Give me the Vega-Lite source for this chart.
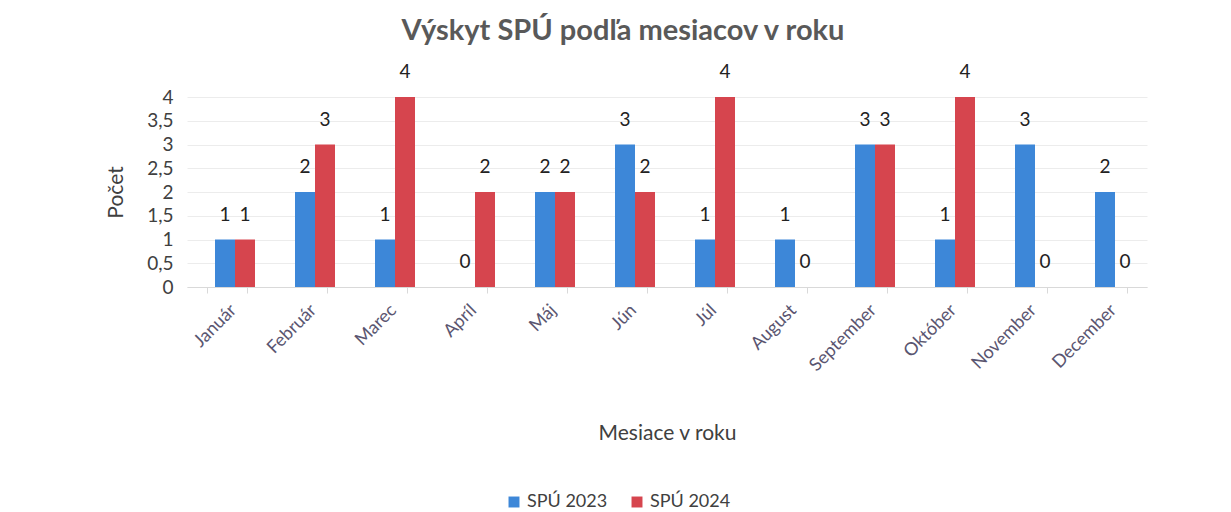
{
  "$schema": "https://vega.github.io/schema/vega-lite/v6.json",
  "width": 960,
  "height": 190,
  "autosize": {"type": "none"},
  "padding": {"left": 187, "top": 97, "right": 84, "bottom": 225},
  "background": "white",
  "title": {
    "text": "Výskyt SPÚ podľa mesiacov v roku",
    "fontSize": 29,
    "font": "Lato",
    "fontWeight": "bold",
    "color": "#595959",
    "anchor": "middle",
    "dx": -44,
    "offset": 17
  },
  "data": {
    "values": [
      {"mesiac": "Január", "rok": "SPÚ 2023", "pocet": 1},
      {"mesiac": "Január", "rok": "SPÚ 2024", "pocet": 1},
      {"mesiac": "Február", "rok": "SPÚ 2023", "pocet": 2},
      {"mesiac": "Február", "rok": "SPÚ 2024", "pocet": 3},
      {"mesiac": "Marec", "rok": "SPÚ 2023", "pocet": 1},
      {"mesiac": "Marec", "rok": "SPÚ 2024", "pocet": 4},
      {"mesiac": "Apríl", "rok": "SPÚ 2023", "pocet": 0},
      {"mesiac": "Apríl", "rok": "SPÚ 2024", "pocet": 2},
      {"mesiac": "Máj", "rok": "SPÚ 2023", "pocet": 2},
      {"mesiac": "Máj", "rok": "SPÚ 2024", "pocet": 2},
      {"mesiac": "Jún", "rok": "SPÚ 2023", "pocet": 3},
      {"mesiac": "Jún", "rok": "SPÚ 2024", "pocet": 2},
      {"mesiac": "Júl", "rok": "SPÚ 2023", "pocet": 1},
      {"mesiac": "Júl", "rok": "SPÚ 2024", "pocet": 4},
      {"mesiac": "August", "rok": "SPÚ 2023", "pocet": 1},
      {"mesiac": "August", "rok": "SPÚ 2024", "pocet": 0},
      {"mesiac": "September", "rok": "SPÚ 2023", "pocet": 3},
      {"mesiac": "September", "rok": "SPÚ 2024", "pocet": 3},
      {"mesiac": "Október", "rok": "SPÚ 2023", "pocet": 1},
      {"mesiac": "Október", "rok": "SPÚ 2024", "pocet": 4},
      {"mesiac": "November", "rok": "SPÚ 2023", "pocet": 3},
      {"mesiac": "November", "rok": "SPÚ 2024", "pocet": 0},
      {"mesiac": "December", "rok": "SPÚ 2023", "pocet": 2},
      {"mesiac": "December", "rok": "SPÚ 2024", "pocet": 0}
    ]
  },
  "encoding": {
    "x": {
      "field": "mesiac",
      "type": "nominal",
      "sort": null,
      "scale": {"paddingInner": 0.5, "paddingOuter": 0.25},
      "axis": {
        "title": "Mesiace v roku",
        "titleFont": "Lato",
        "titleFontSize": 21,
        "titleFontWeight": "normal",
        "titleColor": "#404040",
        "titlePadding": 48,
        "labelAngle": -45,
        "labelFont": "Lato",
        "labelFontSize": 18,
        "labelColor": "#5a5570",
        "labelPadding": 8,
        "domainColor": "#d9d9d9",
        "tickColor": "#d9d9d9",
        "tickSize": 6,
        "tickBand": "extent",
        "grid": false
      }
    },
    "xOffset": {"field": "rok", "type": "nominal", "scale": {"range": [8, 48]}},
    "y": {
      "field": "pocet",
      "type": "quantitative",
      "scale": {"domain": [0, 4]},
      "axis": {
        "title": "Počet",
        "titleFont": "Lato",
        "titleFontSize": 21,
        "titleFontWeight": "normal",
        "titleColor": "#404040",
        "titlePadding": 20,
        "values": [0, 0.5, 1, 1.5, 2, 2.5, 3, 3.5, 4],
        "labelExpr": "replace(format(datum.value, '.1~f'), '.', ',')",
        "labelFont": "Lato",
        "labelFontSize": 19,
        "labelColor": "#404040",
        "labelPadding": 14,
        "domain": false,
        "ticks": false,
        "gridColor": "#ececec"
      }
    }
  },
  "layer": [
    {
      "mark": {"type": "bar"},
      "encoding": {
        "color": {
          "field": "rok",
          "type": "nominal",
          "scale": {"domain": ["SPÚ 2023", "SPÚ 2024"], "range": ["#3d87d8", "#d6454e"]},
          "legend": {
            "title": null,
            "orient": "none",
            "direction": "horizontal",
            "legendX": 318,
            "legendY": 396,
            "symbolType": "square",
            "symbolSize": 120,
            "labelFont": "Lato",
            "labelFontSize": 18,
            "labelColor": "#404040",
            "columnPadding": 20
          }
        }
      }
    },
    {
      "mark": {"type": "text", "dy": -25, "fontSize": 19, "font": "Lato", "color": "#222222"},
      "encoding": {
        "text": {"field": "pocet", "type": "quantitative"}
      }
    }
  ],
  "config": {"view": {"stroke": null}}
}
